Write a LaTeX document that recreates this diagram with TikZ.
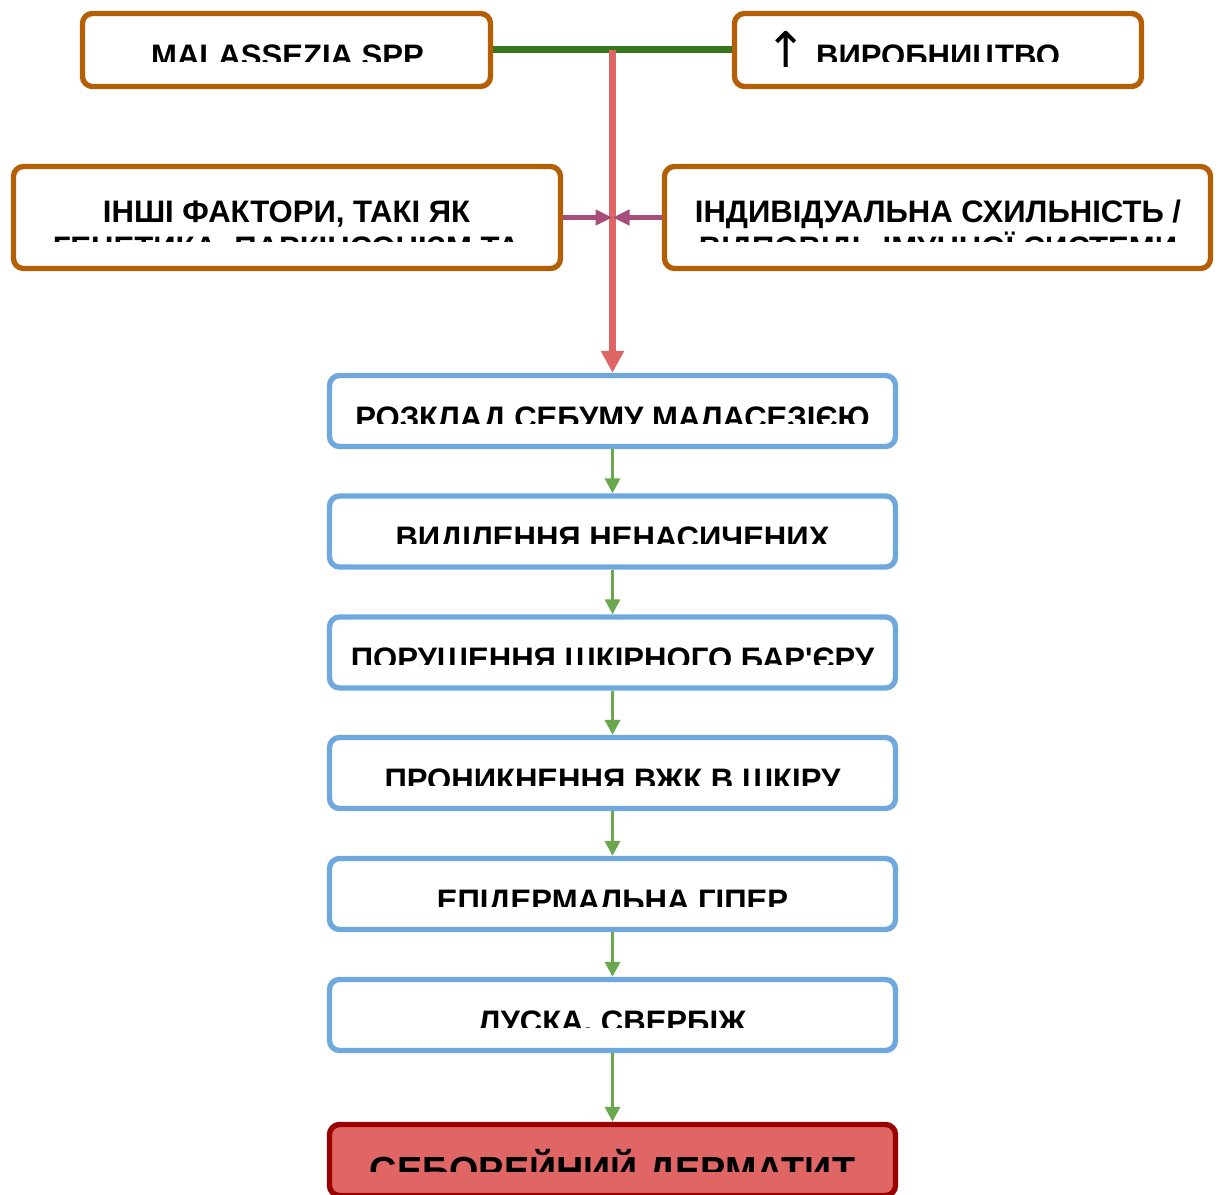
\documentclass[tikz,border=0pt]{standalone}
\usepackage{fontspec}
\setmainfont{Liberation Sans}
\newfontfamily\arrowfont{DejaVu Sans}
\usetikzlibrary{arrows.meta,positioning,calc}
\definecolor{cause}{HTML}{B45F06}
\definecolor{stepblue}{HTML}{6FA8DC}
\definecolor{bar}{HTML}{38761D}
\definecolor{flow}{HTML}{6AA84F}
\definecolor{hit}{HTML}{E06666}
\definecolor{side}{HTML}{A64D79}
\definecolor{endred}{HTML}{990000}

\begin{document}
\begin{tikzpicture}[x=0.75pt,y=-0.75pt,
  causebox/.style={draw=cause,line width=4pt,rounded corners=7.5pt,fill=white,minimum height=54.75pt,inner sep=0pt},
  stepbox/.style={draw=stepblue,line width=4pt,rounded corners=7.5pt,fill=white,minimum width=424.5pt,minimum height=53.25pt,inner sep=0pt},
  endbox/.style={draw=endred,line width=4pt,rounded corners=7.5pt,fill=hit,minimum width=424.5pt,minimum height=53.25pt,inner sep=0pt},
  lbl/.style={font=\bfseries\fontsize{23.3}{28}\selectfont,inner sep=0pt,anchor=base},
  chain/.style={flow,line width=2.5pt,-{Triangle[length=11.25pt,width=11.25pt]}}]
  \useasboundingbox (0,0) rectangle (1221,1195);

  % Causes
  \node[causebox,minimum width=306pt] (mal) at (286.5,50) {};
  \node[causebox,minimum width=305.25pt] (prod) at (938,50) {};
  \node[causebox,minimum width=410.25pt,minimum height=76.5pt] (other) at (287,217.5) {};
  \node[causebox,minimum width=409.5pt,minimum height=76.5pt] (immune) at (937.5,217.5) {};

  % Pathway
  \node[stepbox] (s1) at (612.5,411) {};
  \node[stepbox] (s2) at (612.5,531.5) {};
  \node[stepbox] (s3) at (612.5,652.5) {};
  \node[stepbox] (s4) at (612.5,773) {};
  \node[stepbox] (s5) at (612.5,894) {};
  \node[stepbox] (s6) at (612.5,1015) {};
  \node[endbox] (sd) at (612.5,1160) {};

  % Links
  \draw[bar,line width=5.25pt] (mal.east) -- (prod.west);
  \coordinate (jn) at ($(mal.east)!0.5!(prod.west)$);
  \coordinate (meet) at (jn |- other);
  \draw[hit,line width=5.25pt,-{Triangle[length=16.5pt,width=16.5pt]}] (jn) -- (s1.north);
  \draw[side,line width=3.2pt,-{Triangle[length=12.75pt,width=11.25pt]}] (other.east) -- (meet);
  \draw[side,line width=3.2pt,-{Triangle[length=12.75pt,width=11.25pt]}] (immune.west) -- (meet);
  \draw[chain] (s1.south) -- (s2.north);
  \draw[chain] (s2.south) -- (s3.north);
  \draw[chain] (s3.south) -- (s4.north);
  \draw[chain] (s4.south) -- (s5.north);
  \draw[chain] (s5.south) -- (s6.north);
  \draw[chain] (s6.south) -- (sd.north);

  % Labels, cut off at the bottom
  \begin{scope}
    \clip (85,16) rectangle (488,62);
    \node[lbl] (maltxt) at (287.5,66.5) {MALASSEZIA SPP};
  \end{scope}
  \node[font=\arrowfont\fontsize{37}{37}\selectfont,inner sep=0pt] (up) at (786,49) {↑};
  \begin{scope}
    \clip (737,16) rectangle (1139,62);
    \node[lbl] (prodtxt) at (938,66.5) {ВИРОБНИЦТВО};
  \end{scope}
  \begin{scope}
    \clip (16,169) rectangle (558,241.7);
    \node[lbl] (othertxt) at (286.5,223) {ІНШІ ФАКТОРИ, ТАКІ ЯК};
    \node[lbl] (othertxtb) at (286.5,258) {ГЕНЕТИКА, ПАРКІНСОНІЗМ ТА};
  \end{scope}
  \begin{scope}
    \clip (667,169) rectangle (1208,241.7);
    \node[lbl] (immunetxt) at (938,223) {ІНДИВІДУАЛЬНА СХИЛЬНІСТЬ /};
    \node[lbl] (immunetxtb) at (938,258) {ВІДПОВІДЬ ІМУННОЇ СИСТЕМИ};
  \end{scope}
  \begin{scope}
    \clip (332,378) rectangle (893,423);
    \node[lbl] (s1txt) at (612.5,428) {РОЗКЛАД СЕБУМУ МАЛАСЕЗІЄЮ};
  \end{scope}
  \begin{scope}
    \clip (332,498) rectangle (893,543.5);
    \node[lbl] (s2txt) at (612.5,548.5) {ВИДІЛЕННЯ НЕНАСИЧЕНИХ};
  \end{scope}
  \begin{scope}
    \clip (332,619) rectangle (893,664);
    \node[lbl] (s3txt) at (612.5,669.5) {ПОРУШЕННЯ ШКІРНОГО БАР\textquotesingle ЄРУ};
  \end{scope}
  \begin{scope}
    \clip (332,740) rectangle (893,785);
    \node[lbl] (s4txt) at (612.5,790) {ПРОНИКНЕННЯ ВЖК В ШКІРУ};
  \end{scope}
  \begin{scope}
    \clip (332,861) rectangle (893,906);
    \node[lbl] (s5txt) at (612.5,911) {ЕПІДЕРМАЛЬНА ГІПЕР};
  \end{scope}
  \begin{scope}
    \clip (332,982) rectangle (893,1027);
    \node[lbl] (s6txt) at (612.5,1032) {ЛУСКА, СВЕРБІЖ};
  \end{scope}
  \begin{scope}
    \clip (332,1127) rectangle (893,1171.7);
    \node[lbl,font=\bfseries\fontsize{28.3}{34}\selectfont] (sdtxt) at (612.5,1183.3) {СЕБОРЕЙНИЙ ДЕРМАТИТ};
  \end{scope}
\end{tikzpicture}
\end{document}
